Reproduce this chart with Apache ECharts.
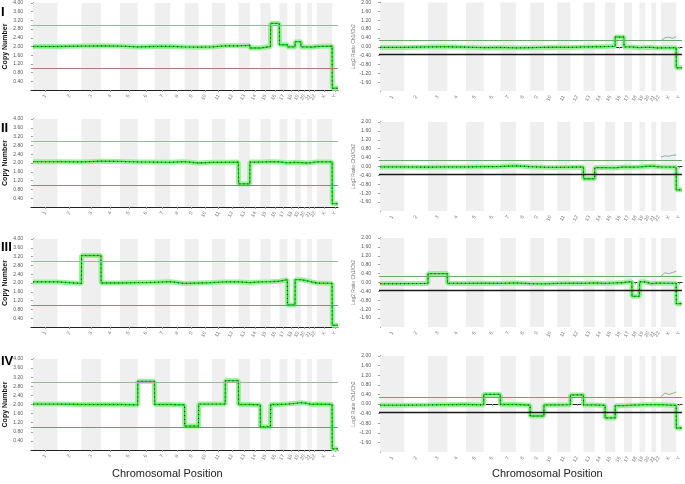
<!DOCTYPE html>
<html>
<head>
<meta charset="utf-8">
<script src="https://cdn.jsdelivr.net/npm/echarts@6/dist/echarts.min.js"></script>
<style>
  html, body { margin: 0; padding: 0; background: #fff; }
  #chart { width: 685px; height: 484px; }
</style>
</head>
<body>
<div id="chart"></div>
<script>
// chromosome names and lengths (Mb) used as genome coordinates
const chromNames = ['1','2','3','4','5','6','7','8','9','10','11','12','13','14','15','16','17','18','19','20','21','22','X','Y'];
const chromLen = [249,243,198,191,181,171,159,146,141,136,135,134,115,107,103,90,81,78,59,63,48,51,155,59];

// copy number per chromosome, samples I-IV (left column)
const cnI   = [2.00,2.02,2.03,2.02,1.98,2.00,2.01,1.98,1.97,1.98,2.03,2.03,2.05,1.93,2.00,3.06,2.08,1.98,2.22,1.98,1.97,2.00,2.02,0.08];
const cnII  = [2.06,2.05,2.08,2.07,2.05,2.04,2.03,2.06,2.00,2.03,2.03,2.04,1.05,2.04,2.06,2.05,2.01,2.03,2.02,2.00,2.02,2.05,2.05,0.15];
const cnIII = [2.05,1.98,3.25,2.00,2.02,2.03,2.06,1.98,2.00,2.02,2.05,2.05,2.02,2.05,2.06,2.08,2.15,1.00,2.15,2.10,2.05,2.00,1.98,0.08];
const cnIV  = [2.02,2.00,2.00,2.00,1.98,3.02,2.00,1.98,1.05,2.02,2.02,3.05,2.00,1.98,1.02,2.00,2.02,2.05,2.08,2.05,2.00,2.02,2.00,0.05];

// log2 ratio per chromosome, samples I-IV (right column)
const lrI   = [-0.03,-0.01,0.00,-0.02,-0.04,-0.03,-0.05,-0.04,-0.03,-0.02,-0.03,-0.01,0.00,0.01,0.02,0.44,-0.01,-0.04,-0.03,-0.02,-0.05,-0.05,-0.04,-0.95];
const lrII  = [-0.02,-0.03,-0.02,-0.02,-0.01,0.00,0.03,-0.01,-0.03,-0.04,-0.03,-0.02,-0.55,-0.05,-0.06,-0.02,-0.03,-0.02,0.00,0.02,0.00,-0.02,-0.03,-1.05];
const lrIII = [-0.05,-0.04,0.40,-0.04,-0.03,-0.04,-0.02,-0.05,-0.06,-0.04,-0.03,-0.04,-0.02,-0.04,-0.02,0.00,0.04,-0.62,0.03,-0.05,-0.03,-0.03,-0.04,-0.95];
const lrIV  = [-0.05,-0.04,-0.03,-0.02,-0.04,0.40,-0.02,-0.05,-0.50,-0.04,-0.03,0.38,-0.04,-0.06,-0.58,-0.07,-0.05,-0.04,-0.03,-0.03,-0.03,-0.03,-0.06,-1.00];

// grey reference trace over chromosome X (right column), evenly along X
const xRefI   = [0.28,0.40,0.44,0.38,0.46];
const xRefII  = [0.42,0.48,0.46,0.50,0.52];
const xRefIII = [0.30,0.44,0.40,0.45,0.50];
const xRefIV  = [0.30,0.46,0.40,0.44,0.50];

const rowLabels = ['I','II','III','IV'];

// cumulative chromosome starts
const chromStart = [];
let acc = 0;
chromLen.forEach(l => { chromStart.push(acc); acc += l; });
const genomeLen = acc;
const chromMid = chromStart.map((s, i) => s + chromLen[i] / 2);

function stepData(values) {
  const out = [];
  values.forEach((v, i) => {
    out.push([chromStart[i] + 1, v]);
    out.push([chromStart[i] + chromLen[i] - 1, v]);
  });
  return out;
}

function xRefData(values) {
  const s = chromStart[22], l = chromLen[22];
  return values.map((v, i) => [s + l * i / (values.length - 1), v]);
}

const bands = [];
chromStart.forEach((s, i) => {
  if (i % 2 === 0 && i < 23) bands.push([{ xAxis: s }, { xAxis: s + chromLen[i] }]);
});

const leftTops = [3, 119, 239, 359], leftHeights = [87, 88, 88, 91];
const rightTops = [2, 122, 238, 356], rightHeights = [89, 89, 89, 96];
const cnSets = [cnI, cnII, cnIII, cnIV];
const lrSets = [lrI, lrII, lrIII, lrIV];
const xRefSets = [xRefI, xRefII, xRefIII, xRefIV];

const grid = [], xAxis = [], yAxis = [], series = [];
const font = 'Liberation Sans';

function addPanel(g, isLeft, values, xRef) {
  xAxis.push({
    gridIndex: g, type: 'value',
    min: isLeft ? -20 : -10, max: genomeLen,
    splitLine: { show: false },
    axisLine: { lineStyle: { color: '#222', width: 1 } },
    axisTick: { show: true, customValues: chromMid, length: 2, lineStyle: { color: '#999' } },
    axisLabel: {
      customValues: chromMid, rotate: 60, fontSize: 5, color: '#777', margin: 5, fontFamily: font,
      formatter: v => chromNames[chromMid.indexOf(v)] || ''
    }
  });
  yAxis.push({
    gridIndex: g, type: 'value',
    min: isLeft ? 0 : -2, max: isLeft ? 4 : 2, interval: 0.4,
    name: isLeft ? 'Copy Number' : 'Log2 Ratio Ch1/Ch2',
    nameLocation: 'middle', nameGap: isLeft ? 22 : 21,
    nameTextStyle: isLeft
      ? { fontSize: 7, fontWeight: 'bold', color: '#111', fontFamily: font }
      : { fontSize: 5, color: '#777', fontFamily: font },
    splitLine: { show: false },
    axisLine: { show: true, lineStyle: { color: '#222', width: 1 } },
    axisTick: { show: true, length: 2, lineStyle: { color: '#999' } },
    axisLabel: { fontSize: 5, color: '#555', margin: 8, showMinLabel: false, fontFamily: font,
      formatter: v => v.toFixed(2) }
  });
  const lines = isLeft
    ? [{ yAxis: 3, lineStyle: { color: '#9cb89c', width: 1, type: 'solid' } },
       { yAxis: 1, lineStyle: { color: '#b07a7a', width: 1, type: 'solid' } }]
    : [{ yAxis: 0.3, lineStyle: { color: '#6fa66f', width: 1, type: 'solid' } },
       { yAxis: -0.35, lineStyle: { color: '#1a1a1a', width: 1.4, type: 'solid' } }];
  const data = stepData(values);
  series.push({
    type: 'line', xAxisIndex: g, yAxisIndex: g, data: data, showSymbol: false, silent: true,
    lineStyle: { color: '#9bef9b', width: 5 }, z: 2,
    markArea: { silent: true, itemStyle: { color: '#efefef' }, data: bands },
    markLine: { silent: true, symbol: 'none', label: { show: false }, data: lines }
  });
  series.push({
    type: 'line', xAxisIndex: g, yAxisIndex: g, data: data, showSymbol: false, silent: true,
    lineStyle: { color: '#22cc22', width: 1.3 }, z: 3
  });
  series.push({
    type: 'line', xAxisIndex: g, yAxisIndex: g, data: data, showSymbol: false, silent: true,
    lineStyle: { color: '#1e3b1e', width: 1.1, type: [1, 3] }, z: 4
  });
  if (xRef) {
    series.push({
      type: 'line', xAxisIndex: g, yAxisIndex: g, data: xRefData(xRef), showSymbol: false, silent: true,
      lineStyle: { color: '#86a0ab', width: 0.9 }, z: 3
    });
  }
}

for (let r = 0; r < 4; r++) {
  grid.push({ left: 31, top: leftTops[r], width: 307, height: leftHeights[r] });
  addPanel(grid.length - 1, true, cnSets[r], null);
  grid.push({ left: 379, top: rightTops[r], width: 303, height: rightHeights[r] });
  addPanel(grid.length - 1, false, lrSets[r], xRefSets[r]);
}

const rowY = [6, 122, 241, 355];
const graphic = rowLabels.map((t, r) => ({
  type: 'text', left: 1, top: rowY[r],
  style: { text: t, font: 'bold 13px "Liberation Sans"', fill: '#000' }
}));
graphic.push({ type: 'text', left: 112, top: 468,
  style: { text: 'Chromosomal Position', font: '11px "Liberation Sans"', fill: '#222' } });
graphic.push({ type: 'text', left: 492, top: 468,
  style: { text: 'Chromosomal Position', font: '11px "Liberation Sans"', fill: '#222' } });

const chart = echarts.init(document.getElementById('chart'));
chart.setOption({
  animation: false,
  backgroundColor: '#fff',
  grid: grid, xAxis: xAxis, yAxis: yAxis, series: series, graphic: graphic
});
</script>
</body>
</html>
